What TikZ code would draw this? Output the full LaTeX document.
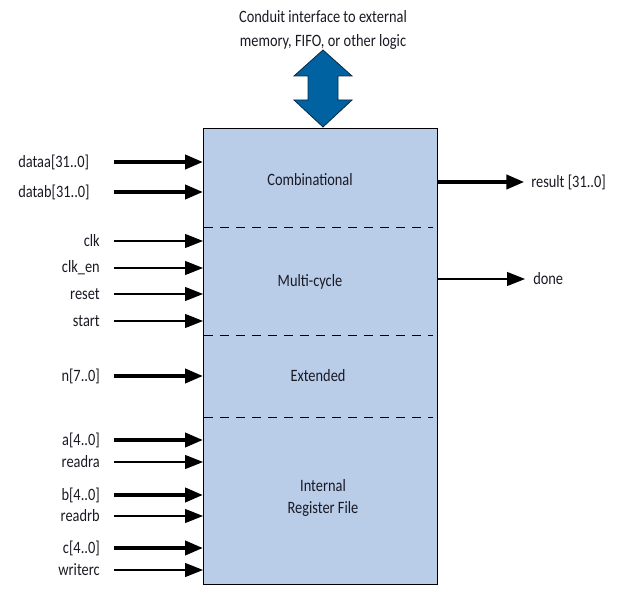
\documentclass[tikz,border=0pt]{standalone}
\usepackage{fontspec}
\setmainfont[FakeStretch=0.83]{Carlito}
\usetikzlibrary{arrows.meta}
\definecolor{blockfill}{RGB}{185,205,233}
\definecolor{conduit}{RGB}{0,98,160}
\definecolor{conduitline}{RGB}{10,40,70}
\definecolor{txt}{RGB}{25,25,35}
\tikzstyle{sig}=[-{Triangle[length=13.5pt,width=10.5pt]},line width=0.8pt]
\tikzstyle{bus}=[sig,line width=3pt]
\tikzstyle{lbl}=[inner sep=0pt,text=txt,font=\fontsize{13}{15}\selectfont]

\begin{document}
\begin{tikzpicture}[x=0.75pt,y=-0.75pt]
	\useasboundingbox (0,0) rectangle (631,598);
	% custom instruction block
	\node[draw,fill=blockfill,line width=0.8pt,minimum width=234*0.75pt,minimum height=456*0.75pt,inner sep=0pt,anchor=north west] (blk) at (203,128) {};
	\foreach \y in {227,335,417}
		\draw[dashed,dash pattern=on 7pt off 5pt,line width=0.6pt] (204,\y) -- (433,\y);
	\node[lbl] (comb) at (310,180) {Combinational};
	\node[lbl] (multi) at (310,282) {Multi-cycle};
	\node[lbl] (ext) at (318,376) {Extended};
	\node[lbl,align=center] (reg) at (323,498) {Internal\\[2pt]Register File};
	% conduit
	\node[lbl,align=center] (cond) at (323,30) {Conduit interface to external\\[3pt]memory, FIFO, or other logic};
	\filldraw[fill=conduit,draw=conduitline,line width=0.6pt]
		(323,50) -- (352,76) -- (338,76) -- (338,100) -- (352,100) -- (323,127)
		-- (294,100) -- (308,100) -- (308,76) -- (294,76) -- cycle;
	% inputs
	\node[lbl,anchor=west] (dataa) at (18,162) {dataa[31..0]};
	\node[lbl,anchor=west] (datab) at (18,192) {datab[31..0]};
	\foreach \name/\txt/\y in {clk/clk/241,clken/clk\_en/268,reset/reset/294,start/start/321,n/{n[7..0]}/376,a/{a[4..0]}/440,readra/readra/462,b/{b[4..0]}/495,readrb/readrb/516,c/{c[4..0]}/548,writerc/writerc/570}
		\node[lbl,anchor=east] (\name) at (100,\y) {\txt};
	\foreach \name/\y in {dataa/162,datab/192,n/376,a/440,b/495,c/548}{
		\coordinate (\name-in) at (114,\y);
		\draw[bus] (\name-in) -- (\name-in -| blk.west);
	}
	\foreach \name/\y in {clk/241,clken/268,reset/294,start/321,readra/462,readrb/516,writerc/570}{
		\coordinate (\name-in) at (114,\y);
		\draw[sig] (\name-in) -- (\name-in -| blk.west);
	}
	% outputs
	\node[lbl,anchor=west] (result) at (531,182) {result [31..0]};
	\node[lbl,anchor=west] (done) at (533,279) {done};
	\draw[bus] (blk.east |- result) -- ([xshift=-5pt]result.west);
	\draw[sig] (blk.east |- done) -- ([xshift=-6pt]done.west);
\end{tikzpicture}
\end{document}
